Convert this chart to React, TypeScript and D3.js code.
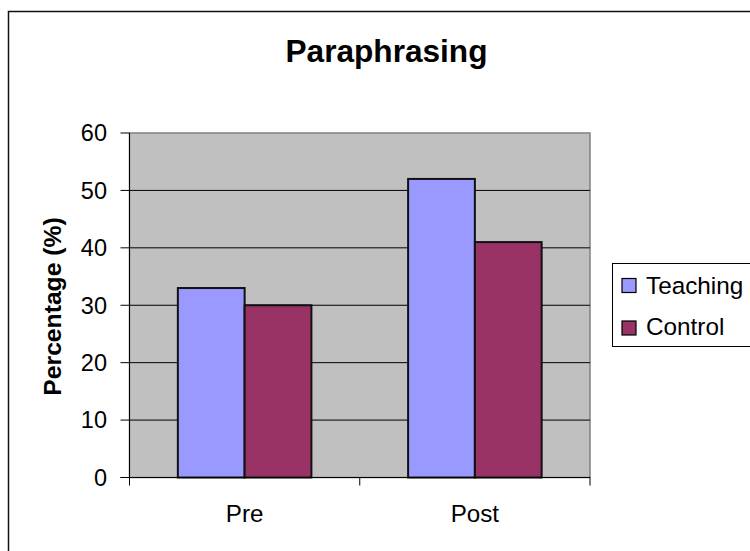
import React from "react";
import * as d3 from "d3";

const categories = ["Pre", "Post"];
const seriesNames = ["Teaching", "Control"];
const teaching = [33, 52];
const control = [30, 41];
const yTicks = [0, 10, 20, 30, 40, 50, 60];

const colors: Record<string, string> = { Teaching: "#9999FF", Control: "#993366" };
const FONT = "'Liberation Sans', Arial, Helvetica, sans-serif";

export default function App() {
  const W = 750;
  const H = 551;
  const plot = { left: 129.5, right: 590, top: 133, bottom: 477.5 };

  const x0 = d3.scaleBand<string>().domain(categories).range([plot.left, plot.right]).padding(0);
  const groupW = x0.bandwidth() * 0.58;
  const x1 = d3.scaleBand<string>().domain(seriesNames).range([0, groupW]).padding(0);
  const y = d3.scaleLinear().domain([0, 60]).range([plot.bottom, plot.top]);

  const values: Record<string, number[]> = { Teaching: teaching, Control: control };
  const catEdges = [...categories.map((c) => x0(c)!), plot.right];

  return (
    <svg
      width={W}
      height={H}
      style={{ position: "absolute", left: 0, top: 0, background: "#fff" }}
      fontFamily={FONT}
    >
      {/* chart frame */}
      <rect x={8.5} y={11.5} width={800} height={600} fill="#fff" stroke="#111" strokeWidth={1.5} />

      <text x={386.5} y={62} textAnchor="middle" fontSize={31.6} fontWeight="bold" fill="#000">
        Paraphrasing
      </text>

      {/* plot area */}
      <rect
        x={plot.left}
        y={plot.top}
        width={plot.right - plot.left}
        height={plot.bottom - plot.top}
        fill="#C0C0C0"
        stroke="#808080"
        strokeWidth={1.5}
      />

      {/* gridlines */}
      {yTicks
        .filter((t) => t > 0 && t < 60)
        .map((t) => (
          <line key={t} x1={plot.left} x2={plot.right} y1={y(t)} y2={y(t)} stroke="#000" strokeWidth={1} />
        ))}

      {/* bars */}
      {categories.map((c, i) =>
        seriesNames.map((s) => {
          const bx = x0(c)! + (x0.bandwidth() - groupW) / 2 + x1(s)!;
          const v = values[s][i];
          return (
            <rect
              key={c + s}
              x={bx}
              y={y(v)}
              width={x1.bandwidth()}
              height={y(0) - y(v)}
              fill={colors[s]}
              stroke="#111"
              strokeWidth={2}
            />
          );
        })
      )}

      {/* y axis */}
      <line x1={plot.left} x2={plot.left} y1={plot.top} y2={plot.bottom} stroke="#000" strokeWidth={1} />
      {yTicks.map((t) => (
        <g key={t}>
          <line x1={plot.left - 9} x2={plot.left} y1={y(t)} y2={y(t)} stroke="#000" strokeWidth={1} />
          <text x={107} y={y(t) + 8.3} textAnchor="end" fontSize={23.5} fill="#000">
            {t}
          </text>
        </g>
      ))}

      {/* x axis */}
      <line x1={plot.left - 9} x2={plot.right} y1={plot.bottom} y2={plot.bottom} stroke="#000" strokeWidth={1} />
      {catEdges.map((e, i) => (
        <line key={i} x1={e} x2={e} y1={plot.bottom} y2={plot.bottom + 8} stroke="#000" strokeWidth={1} />
      ))}
      {categories.map((c) => (
        <text key={c} x={x0(c)! + x0.bandwidth() / 2} y={522} textAnchor="middle" fontSize={24.2} fill="#000">
          {c}
        </text>
      ))}

      <text
        transform="translate(60.5,306.5) rotate(-90)"
        textAnchor="middle"
        fontSize={24.7}
        fontWeight="bold"
        fill="#000"
      >
        Percentage (%)
      </text>

      {/* legend */}
      <rect x={612.5} y={263.5} width={200} height={83} fill="#fff" stroke="#000" strokeWidth={1} />
      {seriesNames.map((s, i) => (
        <g key={s}>
          <rect x={622} y={278.5 + i * 42.5} width={14} height={14} fill={colors[s]} stroke="#000" strokeWidth={1.2} />
          <text x={646} y={293.5 + i * 41} fontSize={24.3} fill="#000">
            {s}
          </text>
        </g>
      ))}
    </svg>
  );
}
